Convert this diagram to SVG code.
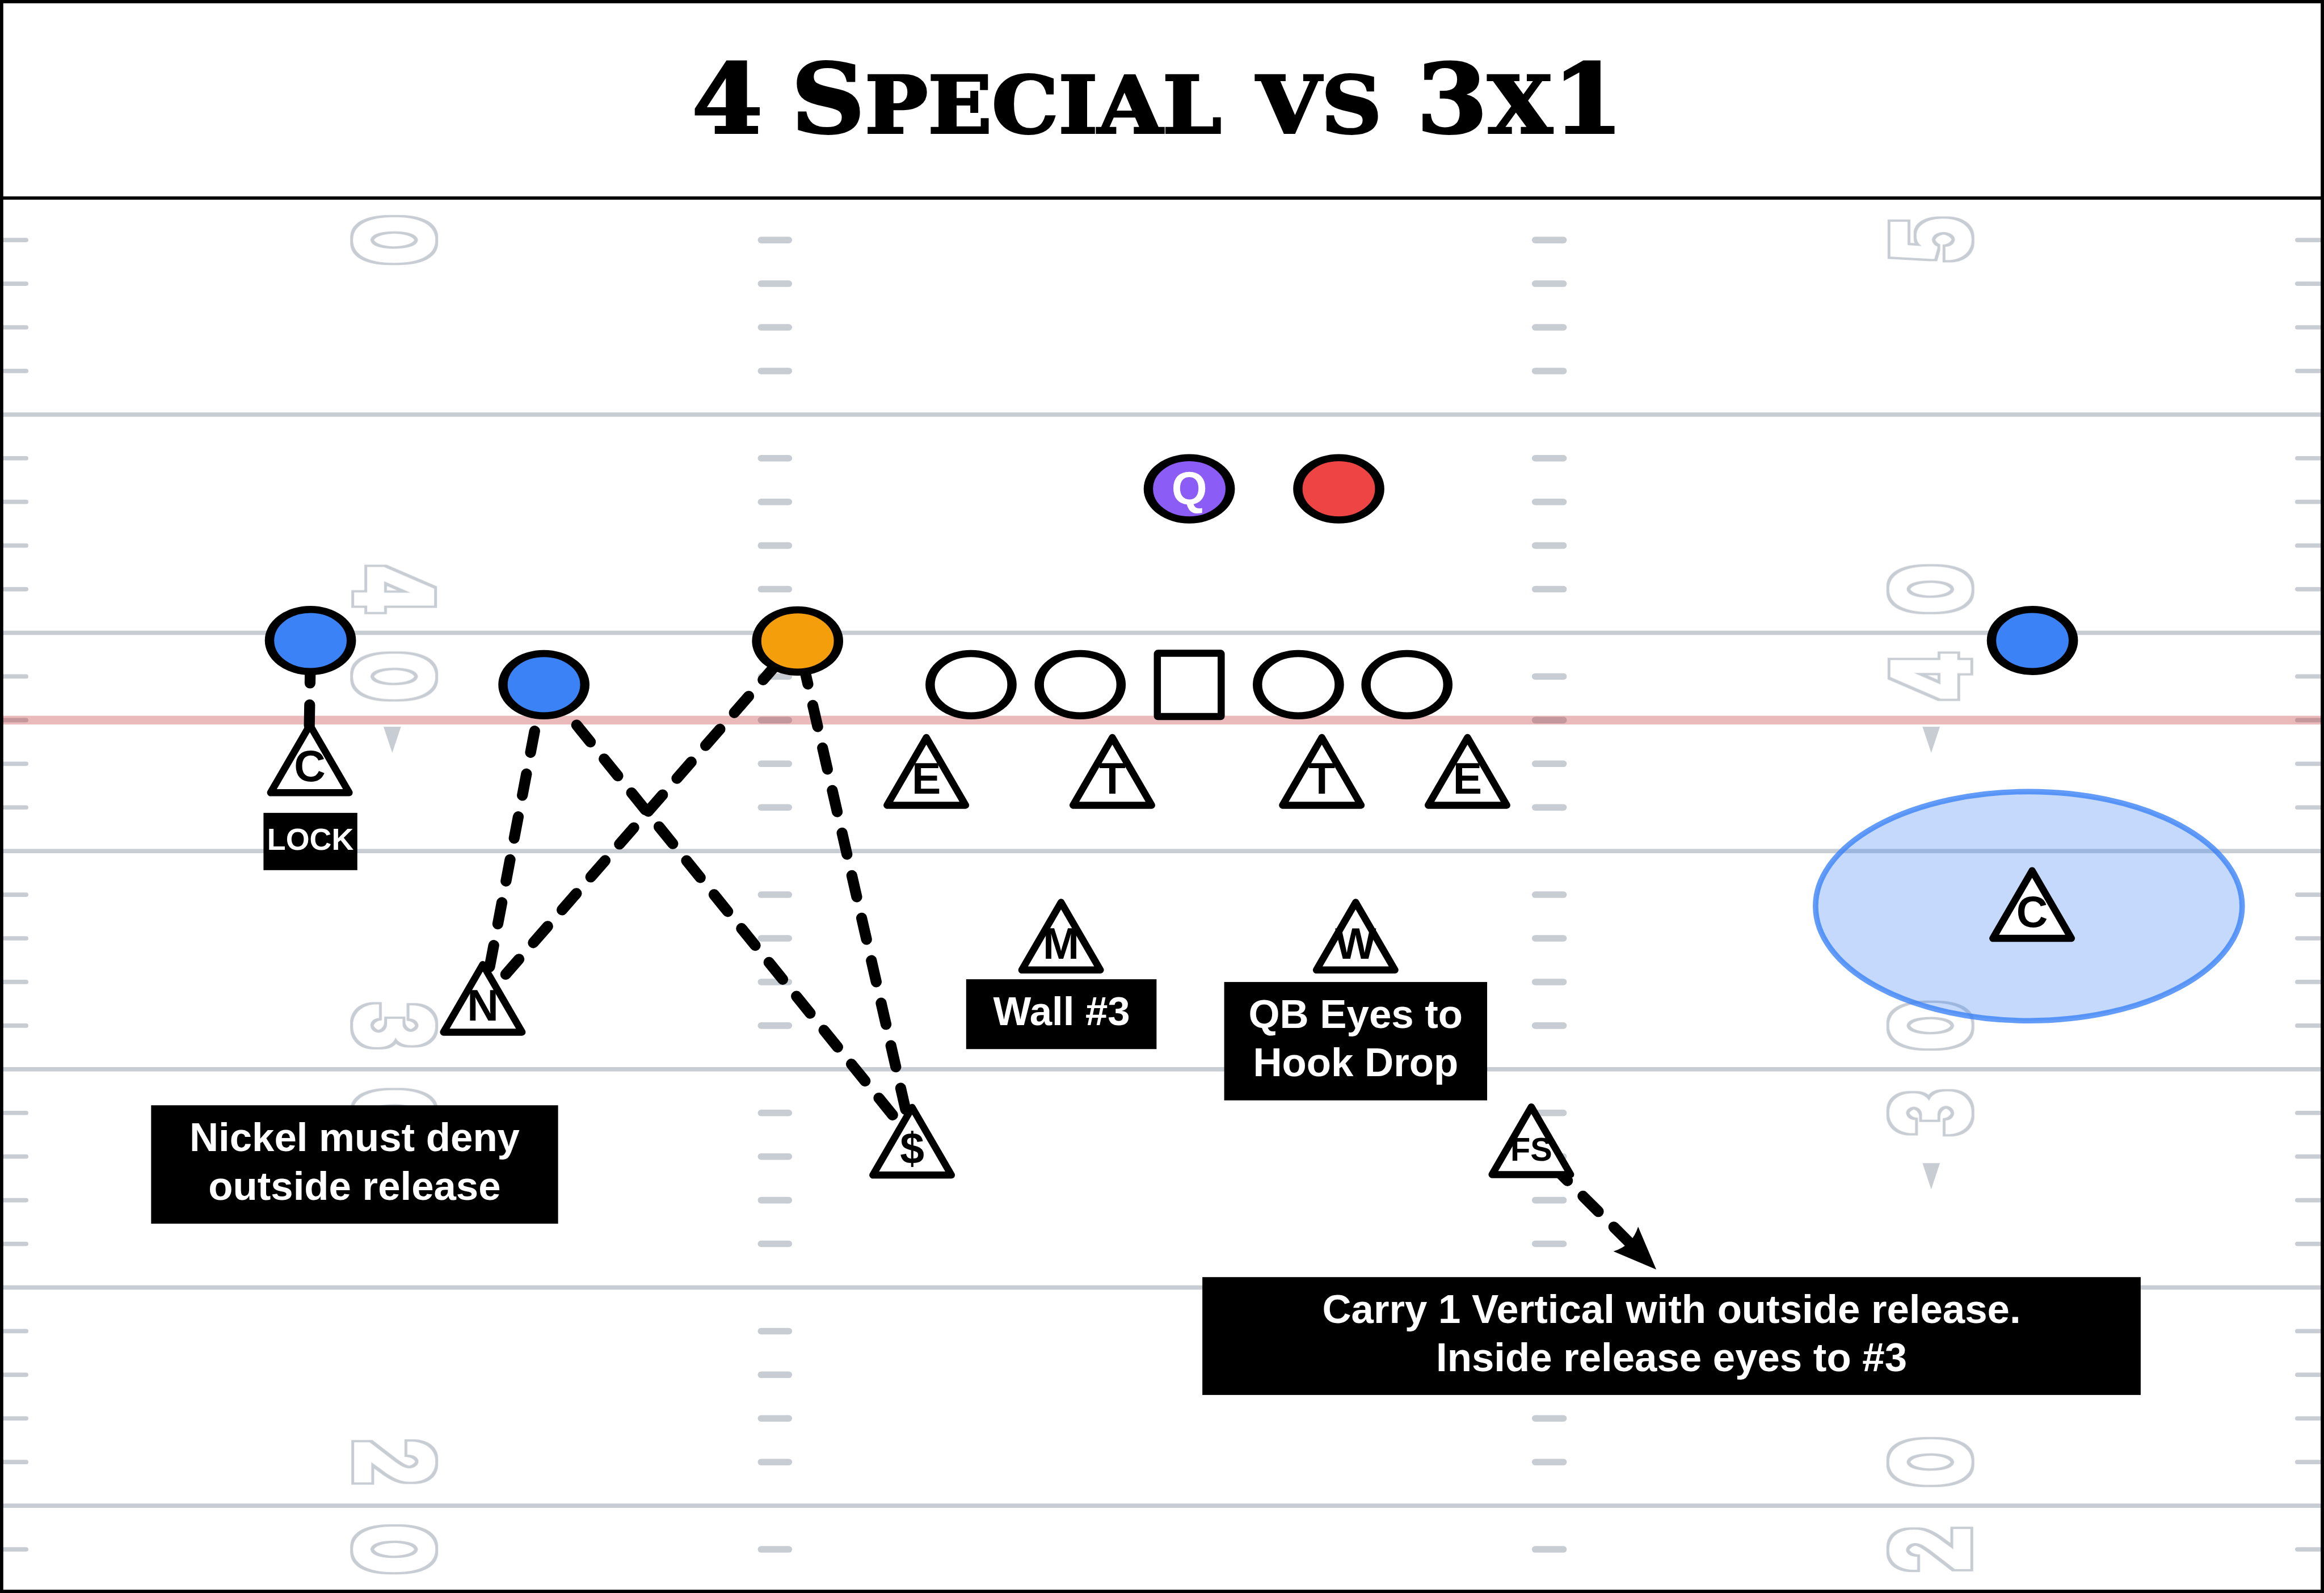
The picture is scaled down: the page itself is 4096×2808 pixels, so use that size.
<svg xmlns="http://www.w3.org/2000/svg" xmlns:xlink="http://www.w3.org/1999/xlink" width="4096" height="2808" viewBox="0 0 4096 2808">
<style>
.g{fill:#c8cdd4}
.yd{font-family:"Inter","DejaVu Sans",sans-serif;font-weight:800;font-size:196px;text-anchor:middle;fill:#c8cdd4;filter:url(#ydf)}
.title{font-family:"DejaVu Serif","Liberation Serif",serif;font-weight:700;font-size:176px;font-variant:small-caps;fill:#000;stroke:#000;stroke-width:4;word-spacing:-12px}
.sc{font-size:207px}
.pl{stroke:#000;stroke-width:13}
.ol{fill:#fff;stroke:#000;stroke-width:13}
.tri{fill:#fff;stroke:#000;stroke-width:13;stroke-linejoin:round}
.tt{font-family:"Liberation Sans",Arial,sans-serif;font-weight:700;font-size:80px;text-anchor:middle;fill:#000}
.box{fill:#000}
.lb{font-family:"Liberation Sans",Arial,sans-serif;font-weight:700;font-size:73.6px;text-anchor:middle;fill:#fff}
.rt{fill:none;stroke:#000;stroke-width:20;stroke-linecap:round;stroke-dasharray:40 40}
</style>
<defs>
<filter id="ydf" filterUnits="userSpaceOnUse" x="-200" y="-200" width="400" height="400" color-interpolation-filters="sRGB">
<feMorphology in="SourceAlpha" operator="dilate" radius="7" result="o"/>
<feMorphology in="SourceAlpha" operator="dilate" radius="2" result="i"/>
<feComposite in="o" in2="i" operator="out" result="ring"/>
<feFlood flood-color="#c8cdd4"/>
<feComposite in2="ring" operator="in"/>
</filter>
<g id="row">
<rect class="g" x="-10" y="-4" width="62" height="8" rx="4"/>
<rect class="g" x="1389" y="-6" width="63" height="12" rx="6"/>
<rect class="g" x="2808" y="-6" width="64" height="12" rx="6"/>
<rect class="g" x="4207" y="-4" width="63" height="8" rx="4"/>
</g>
<polygon id="ydt" class="g" points="-16,0 16,0 0,48"/>
<circle id="blob" r="57" class="pl"/>
<path id="tr" class="tri" d="M0,7 L-72,131 H72 Z"/>
<marker id="ah" markerUnits="userSpaceOnUse" markerWidth="100" markerHeight="80" viewBox="-90 -40 100 80" refX="-65" refY="0" orient="auto">
<path d="M0,0 L-79,-32 Q-62,0 -79,32 Z" fill="#000"/>
</marker>
</defs>
<g transform="scale(0.9615,0.96164)">
<rect width="4260" height="2920" fill="#fff"/>
<g id="field">
<g id="yard-lines" class="g">
<rect y="756" width="4260" height="8"/><rect y="1156" width="4260" height="8"/><rect y="1556" width="4260" height="8"/><rect y="1956" width="4260" height="8"/><rect y="2356" width="4260" height="8"/><rect y="2756" width="4260" height="8"/>
</g>
<g id="ticks">
<use href="#row" y="440"/><use href="#row" y="520"/><use href="#row" y="600"/><use href="#row" y="680"/>
<use href="#row" y="840"/><use href="#row" y="920"/><use href="#row" y="1000"/><use href="#row" y="1080"/>
<use href="#row" y="1240"/><use href="#row" y="1320"/><use href="#row" y="1400"/><use href="#row" y="1480"/>
<use href="#row" y="1640"/><use href="#row" y="1720"/><use href="#row" y="1800"/><use href="#row" y="1880"/>
<use href="#row" y="2040"/><use href="#row" y="2120"/><use href="#row" y="2200"/><use href="#row" y="2280"/>
<use href="#row" y="2440"/><use href="#row" y="2520"/><use href="#row" y="2600"/><use href="#row" y="2680"/>
<use href="#row" y="2840"/>
</g>
<rect id="los" y="1312" width="4260" height="16" fill="#b91c1c" fill-opacity="0.3"/>
<g id="numbers">
<text class="yd" transform="translate(722,440) rotate(90) scale(.68,1)" y="71">0</text>
<text class="yd" transform="translate(722,1080) rotate(90) scale(.68,1)" y="71">4</text>
<text class="yd" transform="translate(722,1240) rotate(90) scale(.68,1)" y="71">0</text>
<text class="yd" transform="translate(722,1880) rotate(90) scale(.68,1)" y="71">3</text>
<text class="yd" transform="translate(722,2040) rotate(90) scale(.68,1)" y="71">0</text>
<text class="yd" transform="translate(722,2680) rotate(90) scale(.68,1)" y="71">2</text>
<text class="yd" transform="translate(722,2840) rotate(90) scale(.68,1)" y="71">0</text>
<text class="yd" transform="translate(3539,440) rotate(-90) scale(.68,1)" y="71">5</text>
<text class="yd" transform="translate(3539,1080) rotate(-90) scale(.68,1)" y="71">0</text>
<text class="yd" transform="translate(3539,1240) rotate(-90) scale(.68,1)" y="71">4</text>
<text class="yd" transform="translate(3539,1880) rotate(-90) scale(.68,1)" y="71">0</text>
<text class="yd" transform="translate(3539,2040) rotate(-90) scale(.68,1)" y="71">3</text>
<text class="yd" transform="translate(3539,2680) rotate(-90) scale(.68,1)" y="71">0</text>
<text class="yd" transform="translate(3539,2840) rotate(-90) scale(.68,1)" y="71">2</text>
<use href="#ydt" x="719" y="1332"/>
<use href="#ydt" x="3540" y="1332"/>
<use href="#ydt" x="3540" y="2132"/>
</g>
</g>
<g id="title-bar">
<rect x="0" y="360" width="4260" height="6" fill="#000"/>
<text class="title" x="1268" y="243" textLength="1708" lengthAdjust="spacingAndGlyphs">4 S<tspan class="sc">pecial vs </tspan>3<tspan class="sc">x</tspan>1</text>
</g>
<g id="zone">
<ellipse cx="3719" cy="1661" rx="391" ry="210" fill="#3b82f6" fill-opacity="0.3" stroke="#3b82f6" stroke-opacity="0.8" stroke-width="10"/>
</g>
<g id="connectors">
<path class="rt" d="M569,1212 L567,1330"/>
<path class="rt" d="M980,1340 L897,1775"/>
<path class="rt" d="M1057,1329 L1638,2046"/>
<path class="rt" d="M1425,1216 L927,1786"/>
<path class="rt" d="M1472,1215 L1660,2034"/>
<path class="rt" d="M2845,2136 L2990,2281" marker-end="url(#ah)"/>
</g>
<g id="wr-left"><use href="#blob" transform="translate(569,1174) scale(1.316,1)" fill="#3b82f6"/></g>
<g id="slot"><use href="#blob" transform="translate(997,1255) scale(1.316,1)" fill="#3b82f6"/></g>
<g id="h-back"><use href="#blob" transform="translate(1462,1175) scale(1.316,1)" fill="#f59e0b"/></g>
<g id="qb"><use href="#blob" transform="translate(2180,896) scale(1.316,1)" fill="#8b5cf6"/>
<text x="2180" y="924" font-family="'Liberation Sans',Arial,sans-serif" font-weight="700" font-size="84" text-anchor="middle" fill="#fff">Q</text></g>
<g id="rb"><use href="#blob" transform="translate(2454,896) scale(1.316,1)" fill="#ef4444"/></g>
<g id="wr-right"><use href="#blob" transform="translate(3725.5,1174) scale(1.316,1)" fill="#3b82f6"/></g>
<g id="ol-1"><use href="#blob" transform="translate(1780,1255) scale(1.316,1)" fill="#fff"/></g>
<g id="ol-2"><use href="#blob" transform="translate(1980,1255) scale(1.316,1)" fill="#fff"/></g>
<g id="center"><rect class="ol" x="2121.5" y="1197.5" width="117" height="116" rx="1"/></g>
<g id="ol-3"><use href="#blob" transform="translate(2380,1255) scale(1.316,1)" fill="#fff"/></g>
<g id="ol-4"><use href="#blob" transform="translate(2579,1255) scale(1.316,1)" fill="#fff"/></g>
<g id="def-c1"><use href="#tr" x="568" y="1322"/><text class="tt" x="568" y="1432">C</text></g>
<g id="def-n"><use href="#tr" x="885" y="1761"/><text class="tt" x="885" y="1871">N</text></g>
<g id="def-ss"><use href="#tr" x="1672" y="2023"/><text class="tt" x="1672" y="2133">$</text></g>
<g id="def-e1"><use href="#tr" x="1698" y="1345"/><text class="tt" x="1698" y="1455">E</text></g>
<g id="def-t1"><use href="#tr" x="2039" y="1345"/><text class="tt" x="2039" y="1455">T</text></g>
<g id="def-t2"><use href="#tr" x="2423" y="1345"/><text class="tt" x="2423" y="1455">T</text></g>
<g id="def-e2"><use href="#tr" x="2690" y="1345"/><text class="tt" x="2690" y="1455">E</text></g>
<g id="def-m"><use href="#tr" x="1945" y="1647"/><text class="tt" x="1945" y="1757">M</text></g>
<g id="def-w"><use href="#tr" x="2485" y="1647"/><text class="tt" x="2485" y="1757">W</text></g>
<g id="def-fs"><use href="#tr" x="2807" y="2022"/><text class="tt" x="2807" y="2128" style="font-size:60px">FS</text></g>
<g id="def-c2"><use href="#tr" x="3725" y="1589"/><text class="tt" x="3725" y="1699">C</text></g>
<g id="lb-lock"><rect class="box" x="483" y="1490" width="172" height="105"/><text class="lb" x="569" y="1558" style="font-size:56px">LOCK</text></g>
<g id="lb-nickel"><rect class="box" x="277" y="2026" width="746" height="217"/><text class="lb" x="650" y="2110">Nickel must deny</text><text class="lb" x="650" y="2199">outside release</text></g>
<g id="lb-wall"><rect class="box" x="1771" y="1795" width="349" height="128"/><text class="lb" x="1946" y="1879">Wall #3</text></g>
<g id="lb-qb"><rect class="box" x="2244" y="1800" width="482" height="217"/><text class="lb" x="2485" y="1884">QB Eyes to</text><text class="lb" x="2485" y="1973">Hook Drop</text></g>
<g id="lb-carry"><rect class="box" x="2204" y="2341" width="1720" height="216"/><text class="lb" x="3064" y="2425">Carry 1 Vertical with outside release.</text><text class="lb" x="3064" y="2513">Inside release eyes to #3</text></g>
<rect id="frame" x="3" y="3" width="4254" height="2914" fill="none" stroke="#000" stroke-width="6"/>
</g>
</svg>
